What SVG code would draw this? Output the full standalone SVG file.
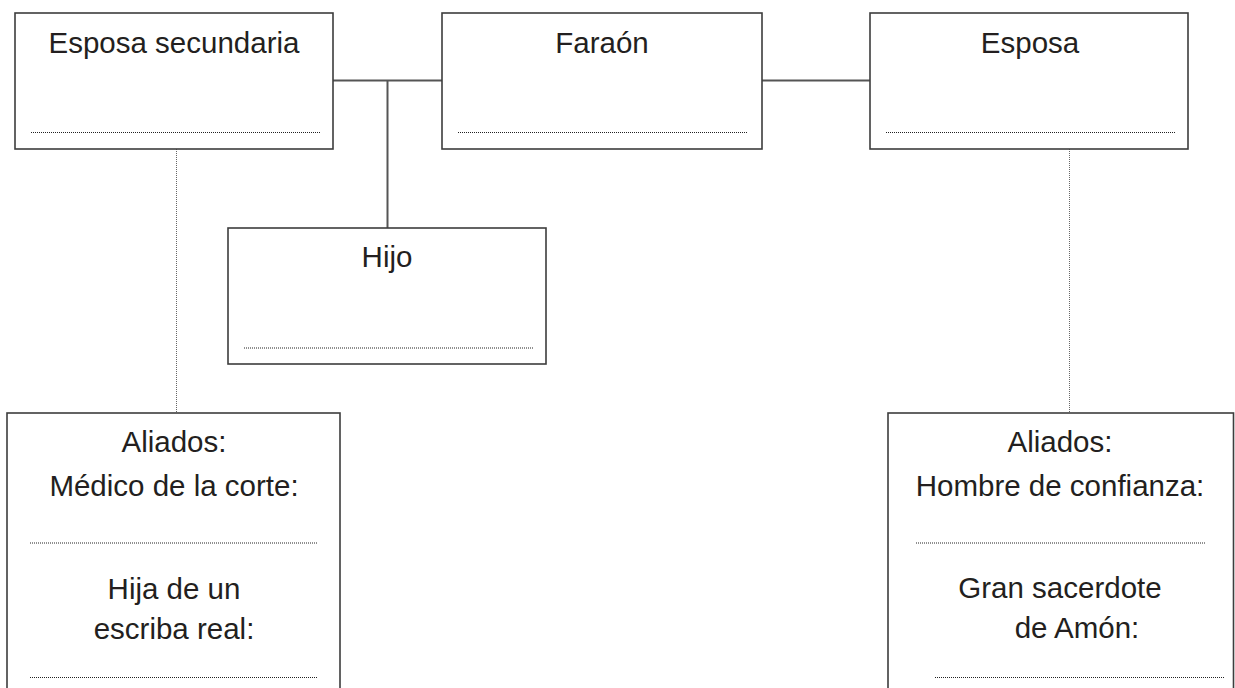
<svg xmlns="http://www.w3.org/2000/svg" width="1235" height="688" viewBox="0 0 1235 688">
<style>
.box{fill:#fff;stroke:#3d3d3d;stroke-width:1.6}
.t{font-family:"Liberation Sans",Arial,sans-serif;font-size:29.5px;fill:#231f20;text-anchor:middle}
.dot{stroke:#222;stroke-width:1;stroke-dasharray:1 1;fill:none}
.con{stroke:#555;stroke-width:2;fill:none}
.vdot{stroke:#666;stroke-width:1;stroke-dasharray:1 1;fill:none}
</style>
<rect width="1235" height="688" fill="#fff"/>
<g id="connectors">
<line class="con" x1="333" y1="80.5" x2="442" y2="80.5"/>
<line class="con" x1="762" y1="80.5" x2="870" y2="80.5"/>
<line class="con" x1="387.5" y1="80.5" x2="387.5" y2="228"/>
<line class="vdot" x1="176.5" y1="149" x2="176.5" y2="413"/>
<line class="vdot" x1="1069.5" y1="149" x2="1069.5" y2="413"/>
</g>
<g id="esposa-secundaria">
<rect class="box" x="15" y="13" width="318" height="136"/>
<text class="t" x="174" y="53">Esposa secundaria</text>
<line class="dot" x1="31" y1="132.5" x2="321" y2="132.5"/>
</g>
<g id="faraon">
<rect class="box" x="442" y="13" width="320" height="136"/>
<text class="t" x="602" y="53">Faraón</text>
<line class="dot" x1="458" y1="132.5" x2="748" y2="132.5"/>
</g>
<g id="esposa">
<rect class="box" x="870" y="13" width="318" height="136"/>
<text class="t" x="1030" y="53">Esposa</text>
<line class="dot" x1="886" y1="132.5" x2="1176" y2="132.5"/>
</g>
<g id="hijo">
<rect class="box" x="228" y="228" width="318" height="136"/>
<text class="t" x="387" y="267">Hijo</text>
<line class="dot" x1="244" y1="348" x2="533" y2="348"/>
</g>
<g id="aliados-izq">
<rect class="box" x="7" y="413" width="333" height="290"/>
<text class="t" x="174" y="452">Aliados:</text>
<text class="t" x="174" y="496">Médico de la corte:</text>
<line class="dot" x1="30" y1="543" x2="318" y2="543"/>
<text class="t" x="174" y="599">Hija de un</text>
<text class="t" x="174" y="639">escriba real:</text>
<line class="dot" x1="30" y1="677.5" x2="318" y2="677.5"/>
</g>
<g id="aliados-der">
<rect class="box" x="888" y="413" width="345.5" height="290"/>
<text class="t" x="1060" y="452">Aliados:</text>
<text class="t" x="1060" y="496">Hombre de confianza:</text>
<line class="dot" x1="916" y1="543" x2="1205" y2="543"/>
<text class="t" x="1060" y="598">Gran sacerdote</text>
<text class="t" x="1077" y="638">de Amón:</text>
<line class="dot" x1="935" y1="677.5" x2="1224" y2="677.5"/>
</g>
</svg>
